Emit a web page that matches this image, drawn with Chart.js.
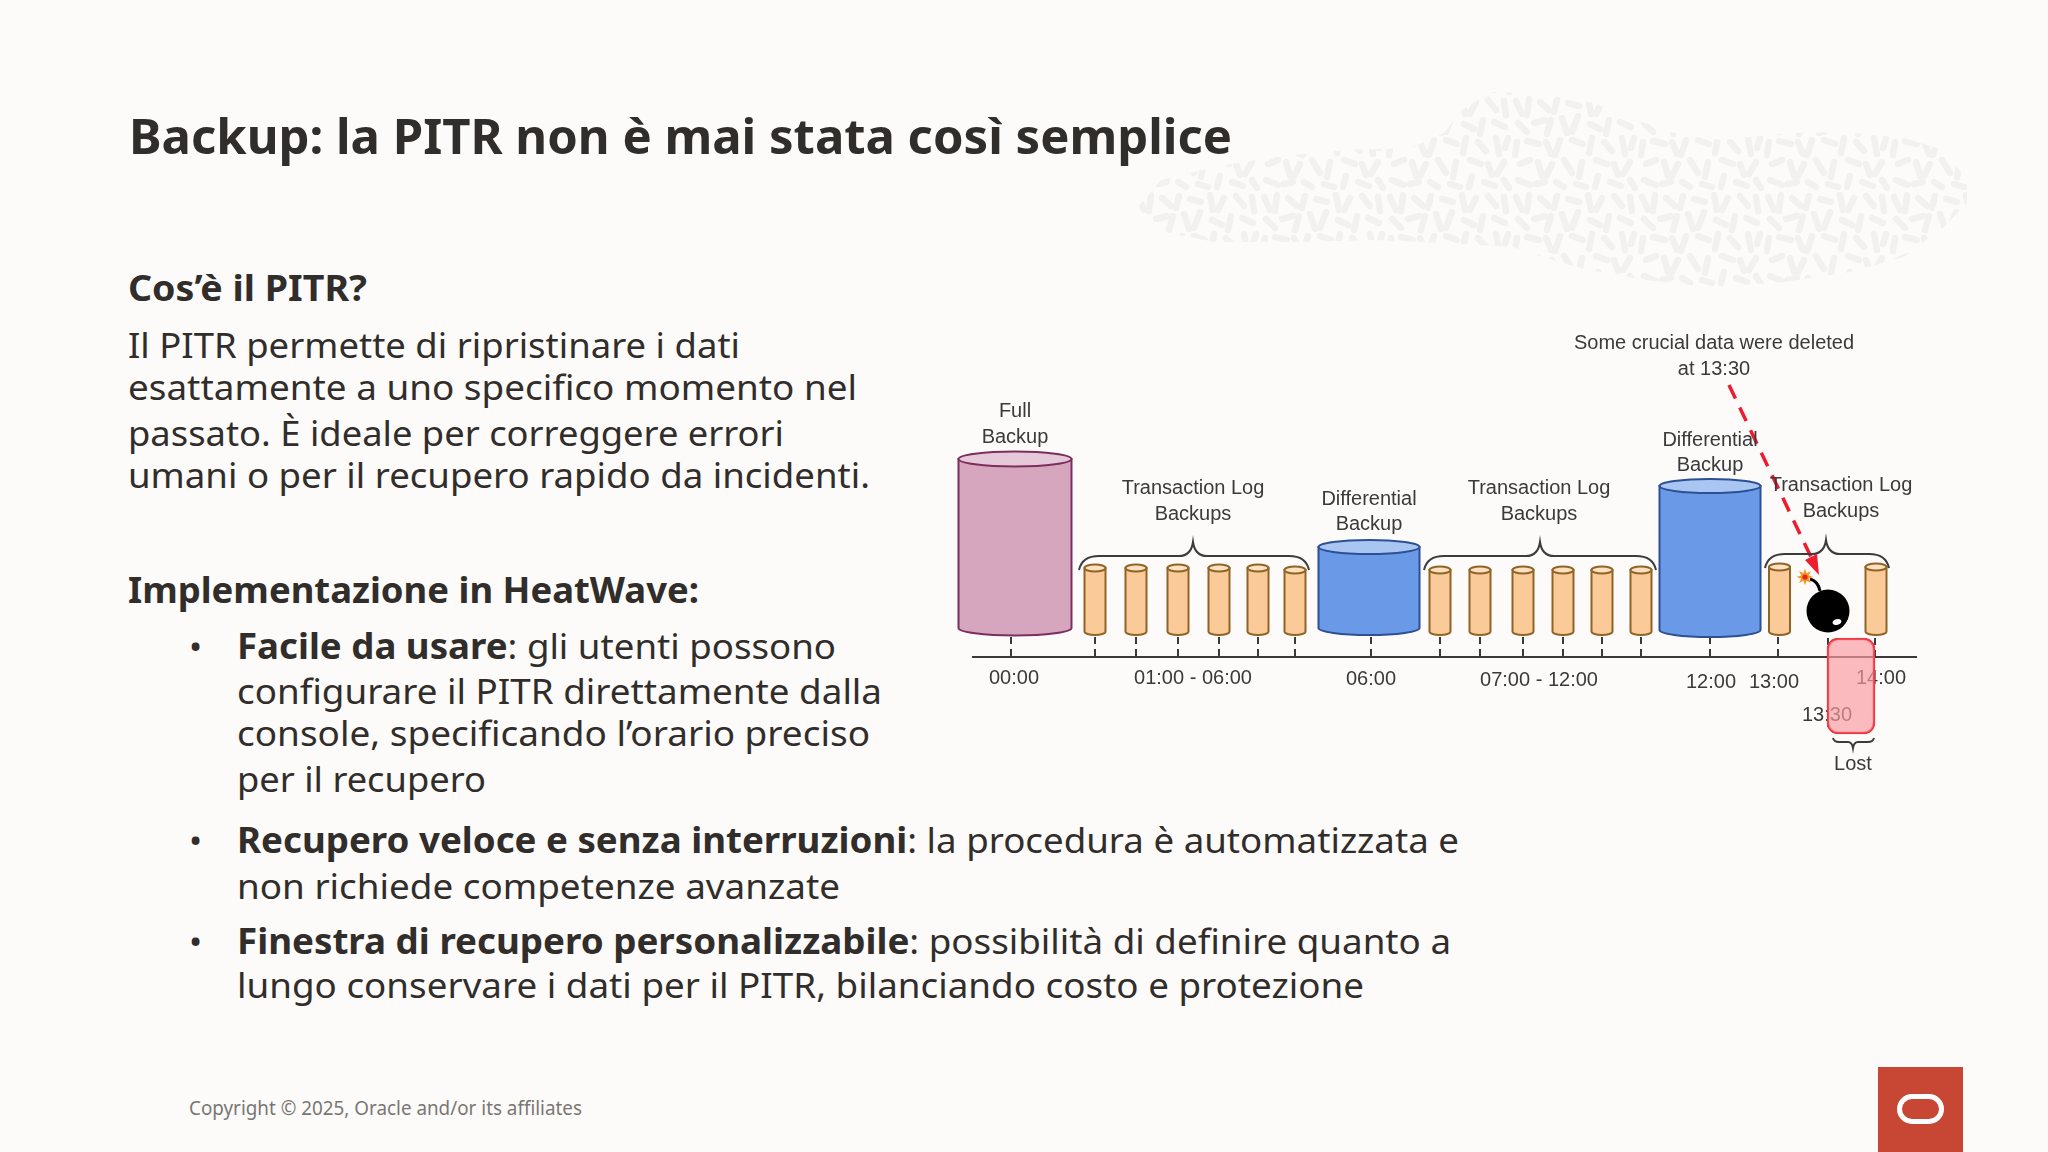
<!DOCTYPE html>
<html lang="it"><head><meta charset="utf-8"><title>Backup PITR</title>
<script src="https://cdn.jsdelivr.net/npm/chart.js@4"></script>
<style>
html,body{margin:0;padding:0;background:#fcfbfa;width:2048px;height:1152px;overflow:hidden}
body{position:relative;font-family:"Noto Sans",sans-serif;color:#312d2a}
.l{position:absolute;white-space:nowrap;transform-origin:0 0;line-height:1;font-size:35px}
.b{font-weight:700}
.t{font-size:49px;font-weight:700}
.h{font-size:35px;font-weight:700}
.c{font-size:20px;color:#7a7672}
#deco{position:absolute;left:0;top:0}
#logo{position:absolute;left:1878px;top:1067px;width:85px;height:85px;background:#c74634}
#logo i{position:absolute;left:19px;top:27px;width:37px;height:20px;border:5.5px solid #fff;border-radius:16px}
#chart{position:absolute;left:940px;top:310px}
</style></head><body>
<svg id="deco" width="2048" height="320"><defs>
<pattern id="rice" width="126" height="96" patternUnits="userSpaceOnUse">
<g stroke="#f2f1f0" stroke-width="6.5" stroke-linecap="round" fill="none">
<path d="M4 5l6 13M17 3l-2 16M28 6l9 8M45 4l-3 12M56 7l11 3M76 3l3 15M90 6l-6 12M102 4l8 10M118 5l2 14M6 27l9 9M22 27l11-3M39 24l-4 14M50 22l5 15M66 20l-6 16M78 28l10 5M97 24l-3 14M108 26l11 5M5 46l-2 13M15 45l12 3M34 46l5 12M48 44l-5 15M60 44l11 4M80 42l-3 15M92 46l8 9M110 42l3 16M122 42l-3 10M8 68l10-4M26 66l4 14M40 68l-6 12M52 64l8 13M70 66l-3 15M84 64l11 4M102 68l4 11M118 66l-7 12M6 84l12 5M24 88l9-2M44 86l8 5M64 88l10 3M86 80l-3 11M98 86l11 4M118 84l5 8"/></g></pattern>
<clipPath id="blob"><polygon points="1138,207 1161,180 1215,167 1272,157 1347,150 1410,148 1444,133 1462,110 1490,92 1542,93 1594,103 1628,117 1674,133 1720,140 1789,133 1846,132 1904,138 1944,150 1967,180 1967,203 1944,227 1904,257 1846,273 1777,283 1708,287 1645,280 1588,270 1542,257 1513,247 1444,243 1375,240 1301,242 1215,242 1169,233 1146,220"/></clipPath></defs>
<rect x="1100" y="70" width="900" height="240" fill="url(#rice)" clip-path="url(#blob)"/></svg>

<div class="l t" data-x="129" data-b="153" data-w="1103">Backup: la PITR non è mai stata così semplice</div>
<div class="l h" data-x="128" data-b="299.7" data-w="239">Cos’è il PITR?</div>
<div class="l" data-x="128" data-b="356.7" data-w="612">Il PITR permette di ripristinare i dati</div>
<div class="l" data-x="128" data-b="399.5" data-w="729">esattamente a uno specifico momento nel</div>
<div class="l" data-x="128" data-b="445" data-w="656">passato. È ideale per correggere errori</div>
<div class="l" data-x="128" data-b="486.7" data-w="742">umani o per il recupero rapido da incidenti.</div>
<div class="l h" data-x="128" data-b="602.5" data-w="571">Implementazione in HeatWave:</div>
<div class="l" data-x="189" data-b="658">•</div>
<div class="l" data-x="237" data-b="658" data-w="599"><span class="b">Facile da usare</span>: gli utenti possono</div>
<div class="l" data-x="237" data-b="702.7" data-w="645">configurare il PITR direttamente dalla</div>
<div class="l" data-x="237" data-b="745.5" data-w="633">console, specificando l’orario preciso</div>
<div class="l" data-x="237" data-b="790.7" data-w="249">per il recupero</div>
<div class="l" data-x="189" data-b="852.5">•</div>
<div class="l" data-x="237" data-b="852.5" data-w="1222"><span class="b">Recupero veloce e senza interruzioni</span>: la procedura è automatizzata e</div>
<div class="l" data-x="237" data-b="897.7" data-w="603">non richiede competenze avanzate</div>
<div class="l" data-x="189" data-b="953.5">•</div>
<div class="l" data-x="237" data-b="953.5" data-w="1214"><span class="b">Finestra di recupero personalizzabile</span>: possibilità di definire quanto a</div>
<div class="l" data-x="237" data-b="997.5" data-w="1127">lungo conservare i dati per il PITR, bilanciando costo e protezione</div>
<div class="l c" data-x="189" data-b="1115.3" data-w="393">Copyright © 2025, Oracle and/or its affiliates</div>
<div id="logo"><i></i></div>

<canvas id="chart" width="1000" height="480"></canvas>
<script>
// ---- diagram data: x is position along the timeline, y is height above the timeline ----
const fullBackupX = [75];
const fullBackupRange = [[29, 198]];
const differentialX = [429, 770];
const differentialRange = [[29, 110], [27, 171]];
const logBackupX = [155, 196, 238, 279, 318, 355, 500, 540, 583, 623, 662, 701, 839.5, 936];
const logBackupTop = [89, 89, 89, 89, 89, 87, 87, 87, 87, 87, 87, 87, 90, 90];
const logBackupBase = 25.5;
const lostWindowX = [911];
const lostWindowRange = [[-77, 19]];
const tickPositions = [74, 253, 431, 599, 771, 834, 887, 941];
const tickLabels = ['00:00', '01:00 - 06:00', '06:00', '07:00 - 12:00', '12:00', '13:00', '13:30', '14:00'];
const tickDrop = [13, 13, 14, 15, 17, 17, 50, 13];
const leaderX = [71, 155, 196, 238, 279, 318, 355, 431, 500, 540, 583, 623, 662, 701, 770, 838, 888, 935];
const leaderFrom = [20, 20, 20, 20, 20, 20, 20, 20, 20, 20, 20, 20, 20, 20, 20, 20, 19, 19];
const leaderTo = [0, 0, 0, 0, 0, 0, 0, 0, 0, 0, 0, 0, 0, 0, 0, 0, -70, 0];
const timelineX = [32, 977];
const arrowX = [789, 871];
const arrowY = [272, 100];
const bombX = [888];
const bombY = [46];
const noteLines = ['Some crucial data were deleted', 'at 13:30', 'Full', 'Backup', 'Transaction Log', 'Backups', 'Differential', 'Backup', 'Transaction Log', 'Backups', 'Differential', 'Backup', 'Transaction Log', 'Backups', 'Lost'];
const noteX = [774, 774, 75, 75, 253, 253, 429, 429, 599, 599, 770, 770, 901, 901, 913];
const noteY = [314, 288, 246, 220, 169, 143, 158, 133, 169, 143, 217, 192, 172, 146, -107];
const braceFrom = [139, 484, 825];
const braceTo = [369, 716, 949];
const braceTip = [253, 600, 886];
const braceLevel = [101, 101, 103];

// ---- fit slide text lines to the measured widths ----
document.querySelectorAll('.l').forEach(el => {
  const size = parseFloat(getComputedStyle(el).fontSize);
  el.style.left = el.dataset.x + 'px';
  el.style.top = (+el.dataset.b - size * 0.86) + 'px';
  if (el.dataset.w) el.style.transform = 'scaleX(' + (+el.dataset.w / el.getBoundingClientRect().width) + ')';
});

const labelFont = '20px "Liberation Sans", Arial, sans-serif';
const labelColor = '#3a3a3a';

const cylinderPlugin = {
  id: 'cylinder',
  afterDatasetDraw(chart, args) {
    const ds = chart.data.datasets[args.index];
    if (!ds.cylinder) return;
    const ctx = chart.ctx, c = ds.cylinder;
    chart.getDatasetMeta(args.index).data.forEach(bar => {
      const {x, y, base, width} = bar.getProps(['x', 'y', 'base', 'width'], true);
      const rx = width / 2;
      ctx.save();
      ctx.lineWidth = 2;
      ctx.strokeStyle = c.edge;
      ctx.fillStyle = ds.backgroundColor;
      ctx.beginPath();
      ctx.moveTo(x - rx, y);
      ctx.lineTo(x - rx, base);
      ctx.ellipse(x, base, rx, c.ry, 0, Math.PI, 0, true);
      ctx.lineTo(x + rx, y);
      ctx.closePath();
      ctx.fill();
      ctx.stroke();
      ctx.beginPath();
      ctx.ellipse(x, y, rx, c.ry, 0, 0, Math.PI * 2);
      ctx.fillStyle = c.cap;
      ctx.fill();
      ctx.stroke();
      ctx.restore();
    });
  }
};

const overlayPlugin = {
  id: 'overlay',
  afterDatasetsDraw(chart) {
    const ctx = chart.ctx, sx = chart.scales.x, sy = chart.scales.y;
    ctx.save();
    ctx.strokeStyle = '#3c3c3c';
    ctx.lineWidth = 2;
    const brace = (from, to, tip, lvl, dir) => {
      const a = sx.getPixelForValue(from), b = sx.getPixelForValue(to), t = sx.getPixelForValue(tip), y = sy.getPixelForValue(lvl);
      ctx.beginPath();
      ctx.moveTo(a, y + 14 * dir);
      ctx.quadraticCurveTo(a + 3, y, a + 20, y);
      ctx.lineTo(t - 14, y);
      ctx.quadraticCurveTo(t - 2, y, t, y - 14 * dir);
      ctx.quadraticCurveTo(t + 2, y, t + 14, y);
      ctx.lineTo(b - 20, y);
      ctx.quadraticCurveTo(b - 3, y, b, y + 14 * dir);
      ctx.stroke();
    };
    braceFrom.forEach((f, i) => brace(f, braceTo[i], braceTip[i], braceLevel[i], 1));
    {
      const a = sx.getPixelForValue(893), b = sx.getPixelForValue(934), t = sx.getPixelForValue(913), y = sy.getPixelForValue(-85);
      ctx.beginPath();
      ctx.moveTo(a, y - 4);
      ctx.quadraticCurveTo(a + 1, y, a + 6, y);
      ctx.lineTo(t - 5, y);
      ctx.quadraticCurveTo(t - 1, y, t, y + 6);
      ctx.quadraticCurveTo(t + 1, y, t + 5, y);
      ctx.lineTo(b - 6, y);
      ctx.quadraticCurveTo(b - 1, y, b, y - 4);
      ctx.stroke();
    }
    const bx = sx.getPixelForValue(bombX[0]), by = sy.getPixelForValue(bombY[0]);
    ctx.strokeStyle = '#000';
    ctx.lineWidth = 3;
    ctx.beginPath();
    ctx.moveTo(bx - 8, by - 20);
    ctx.quadraticCurveTo(bx - 10, by - 30, bx - 18, by - 32);
    ctx.stroke();
    ctx.fillStyle = '#f7941d';
    ctx.beginPath();
    for (let i = 0; i < 16; i++) {
      const r = i % 2 ? 4 : 8.5, a = i * Math.PI / 8;
      ctx.lineTo(bx - 23 + r * Math.cos(a), by - 34 + r * Math.sin(a));
    }
    ctx.fill();
    ctx.fillStyle = '#e5261f';
    ctx.beginPath(); ctx.arc(bx - 23, by - 34, 2.6, 0, Math.PI * 2); ctx.fill();
    ctx.fillStyle = '#fff';
    ctx.beginPath(); ctx.ellipse(bx + 9, by + 11, 4.5, 2.8, -0.3, 0, Math.PI * 2); ctx.fill();
    const ax = v => sx.getPixelForValue(v), ay = v => sy.getPixelForValue(v);
    ctx.fillStyle = '#ee1c2e';
    ctx.beginPath();
    ctx.moveTo(ax(879), ay(82));
    ctx.lineTo(ax(865), ay(97));
    ctx.lineTo(ax(877), ay(103));
    ctx.closePath();
    ctx.fill();
    ctx.font = labelFont;
    ctx.fillStyle = labelColor;
    ctx.textAlign = 'center';
    ctx.textBaseline = 'middle';
    noteLines.forEach((t, i) => ctx.fillText(t, ax(noteX[i]), ay(noteY[i])));
    ctx.restore();
  }
};

const toXY = (xs, ys) => xs.map((x, i) => ({x, y: ys[i]}));
const leaderPoints = [];
leaderX.forEach((x, i) => leaderPoints.push({x, y: leaderFrom[i]}, {x, y: leaderTo[i]}, {x, y: null}));

new Chart(document.getElementById('chart'), {
  type: 'bar',
  data: {datasets: [
    {type: 'line', order: 9, data: timelineX.map(x => ({x, y: 0})), borderColor: '#3a3a3a', borderWidth: 2, pointRadius: 0, clip: false},
    {type: 'line', order: 8, data: leaderPoints, borderColor: '#3a3a3a', borderWidth: 2, borderDash: [7, 5], pointRadius: 0, spanGaps: false, clip: false},
    {order: 7, grouped: false, data: toXY(fullBackupX, fullBackupRange), barThickness: 113, backgroundColor: '#d6a5be', cylinder: {ry: 7.5, edge: '#7d2f5c', cap: '#e6c9d9'}, clip: false},
    {order: 7, grouped: false, data: toXY(differentialX, differentialRange), barThickness: 101, backgroundColor: '#6a99e8', cylinder: {ry: 7, edge: '#2d4f94', cap: '#a9c6f3'}, clip: false},
    {order: 7, grouped: false, data: logBackupX.map((x, i) => ({x, y: [logBackupBase, logBackupTop[i]]})), barThickness: 21, backgroundColor: '#fbca99', cylinder: {ry: 3.5, edge: '#8f6427', cap: '#fde0bf'}, clip: false},
    {type: 'line', order: 6, showLine: false, data: toXY(bombX, bombY), pointRadius: 21.5, pointBackgroundColor: '#000', pointBorderWidth: 0, clip: false},
    {order: 5, grouped: false, data: toXY(lostWindowX, lostWindowRange), barThickness: 48, backgroundColor: 'rgba(251,155,160,0.68)', borderColor: '#ec3a46', borderWidth: 2, borderRadius: 11, borderSkipped: false},
    {type: 'line', order: 1, data: toXY(arrowX, arrowY), borderColor: '#ee1c2e', borderWidth: 3.5, borderDash: [15, 10], pointRadius: 0, clip: false}
  ]},
  plugins: [cylinderPlugin, overlayPlugin],
  options: {
    responsive: false, animation: false, devicePixelRatio: 1,
    layout: {padding: 0, autoPadding: false},
    plugins: {legend: {display: false}, tooltip: {enabled: false}},
    scales: {
      x: {
        type: 'linear', min: 0, max: 1000, offset: false, position: {y: 0},
        border: {display: false},
        grid: {display: false, drawTicks: false, offset: false},
        afterBuildTicks: s => { s.ticks = tickPositions.map(value => ({value})); },
        afterFit: s => { s.paddingLeft = 0; s.paddingRight = 0; s.paddingTop = 0; s.paddingBottom = 0; s.height = 0; },
        ticks: {
          autoSkip: false, maxRotation: 0, padding: 8, color: labelColor,
          font: c => ({family: '"Liberation Sans", Arial, sans-serif', size: 20,
            lineHeight: (2 * tickDrop[Math.max(0, tickPositions.indexOf(c.tick ? c.tick.value : 74))]) + 'px'}),
          callback: v => tickLabels[tickPositions.indexOf(v)]
        }
      },
      y: {type: 'linear', min: -133, max: 347, display: false}
    }
  }
});
</script>
</body></html>
